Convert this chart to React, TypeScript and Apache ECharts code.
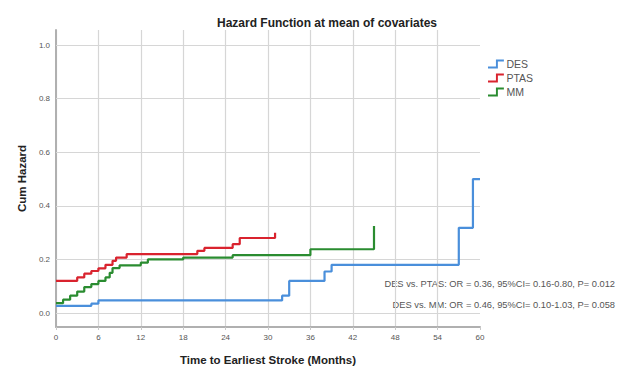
import React, { useEffect, useRef } from "react";
import * as echarts from "echarts";

const xTicks = [0, 6, 12, 18, 24, 30, 36, 42, 48, 54, 60];
const yTickLabels = [0, 0.2, 0.4, 0.6, 0.8, 1.0];

const desTime = [0, 5, 6, 32, 33, 38, 39, 57, 59, 60];
const desHazard = [0.027, 0.035, 0.047, 0.065, 0.12, 0.155, 0.18, 0.318, 0.5, 0.5];

const ptasTime = [0, 3, 4, 5, 6, 7, 8, 8.5, 10, 20, 21, 25, 26, 31];
const ptasHazard = [0.12, 0.133, 0.147, 0.157, 0.167, 0.18, 0.195, 0.207, 0.22, 0.232, 0.243, 0.257, 0.28, 0.3];

const mmTime = [0, 1, 2, 3, 4, 5, 6, 7, 7.6, 8, 9, 12, 13, 18, 25, 36, 45];
const mmHazard = [0.037, 0.05, 0.065, 0.08, 0.097, 0.108, 0.12, 0.133, 0.15, 0.168, 0.178, 0.188, 0.2, 0.207, 0.216, 0.238, 0.325];

const seriesNames = ["DES", "PTAS", "MM"];
const colors = ["#4a8fdb", "#d9232e", "#2a8c30"];
const annotations = [
  "DES vs. PTAS: OR = 0.36, 95%CI= 0.16-0.80, P= 0.012",
  "DES vs. MM: OR = 0.46, 95%CI= 0.10-1.03, P= 0.058",
];

const zip = (xs: number[], ys: number[]) => xs.map((x, i) => [x, ys[i]]);

export default function App() {
  const ref = useRef<HTMLDivElement>(null);
  useEffect(() => {
    document.body.style.margin = "0";
    if (!ref.current) return;
    const chart = echarts.init(ref.current, null, { renderer: "svg" });
    const stepIcon = "path://M0,8 L9,8 L9,0 L18,0 L18,2.2 L11.2,2.2 L11.2,10.2 L0,10.2 Z";
    const datas = [zip(desTime, desHazard), zip(ptasTime, ptasHazard), zip(mmTime, mmHazard)];
    const gridColors = xTicks.map((v, i) => (i === xTicks.length - 1 ? "rgba(0,0,0,0)" : "#d6d6d6"));
    chart.setOption({
      animation: false,
      backgroundColor: "#ffffff",
      textStyle: { fontFamily: "Liberation Sans, Arial, sans-serif" },
      title: {
        text: "Hazard Function at mean of covariates",
        left: 322,
        top: 12,
        textAlign: "center",
        textStyle: { fontSize: 12, fontWeight: "bold", color: "#222" },
      },
      legend: {
        orient: "vertical",
        left: 483,
        top: 53,
        itemWidth: 17,
        itemHeight: 9,
        itemGap: 2,
        data: seriesNames.map((n) => ({ name: n, icon: stepIcon })),
        textStyle: { fontSize: 10.5, lineHeight: 12, color: "#555", padding: [0, 0, 0, -3] },
      },
      grid: { left: 56, right: 141, top: 30, bottom: 42 },
      xAxis: {
        type: "value",
        min: 0,
        max: 60,
        interval: 6,
        name: "Time to Earliest Stroke (Months)",
        nameLocation: "middle",
        nameGap: 27,
        nameTextStyle: { fontSize: 11.5, fontWeight: "bold", color: "#222" },
        axisLine: { show: true, onZero: false, lineStyle: { color: "#b0b0b0", width: 2 } },
        axisTick: { show: true, length: 3, lineStyle: { color: "#c8c8c8" } },
        axisLabel: { fontSize: 8, color: "#555", margin: 6, formatter: (v: number) => (xTicks.includes(v) ? String(v) : "") },
        splitLine: { show: true, lineStyle: { color: gridColors, width: 1.2 } },
      },
      yAxis: {
        type: "value",
        min: -0.052,
        max: 1.056,
        name: "Cum Hazard",
        nameLocation: "middle",
        nameGap: 27,
        nameTextStyle: { fontSize: 11.5, fontWeight: "bold", color: "#222" },
        axisLine: { show: true, onZero: false, lineStyle: { color: "#b0b0b0", width: 2 } },
        axisTick: { show: false },
        axisLabel: {
          fontSize: 8,
          color: "#555",
          margin: 6,
          customValues: yTickLabels,
          formatter: (v: number) => v.toFixed(1),
        },
        splitLine: { show: false },
      },
      graphic: annotations.map((t, i) => ({
        type: "text",
        right: 6,
        top: 279 + i * 21,
        style: { text: t, fontSize: 9.3, fill: "#555", fontFamily: "Liberation Sans, Arial, sans-serif" },
      })),
      series: seriesNames.map((name, i) => ({
        name,
        type: "line",
        step: "end",
        data: datas[i],
        showSymbol: false,
        symbol: "none",
        z: 3,
        lineStyle: { color: colors[i], width: 2.2 },
        itemStyle: { color: colors[i] },
        markLine:
          i === 0
            ? {
                silent: true,
                symbol: "none",
                label: { show: false },
                z: 1,
                lineStyle: { color: "#d6d6d6", width: 1.2, type: "solid" },
                data: yTickLabels.map((v) => ({ yAxis: v })),
              }
            : undefined,
      })),
    });
    return () => chart.dispose();
  }, []);
  return <div ref={ref} style={{ width: 621, height: 371 }} />;
}
